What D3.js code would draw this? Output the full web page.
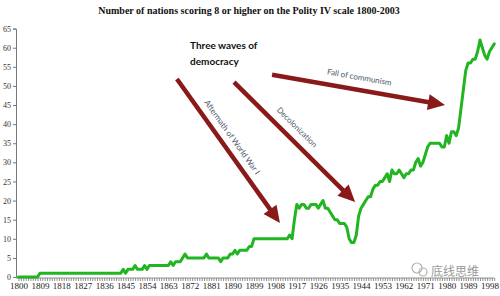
<!DOCTYPE html>
<html>
<head>
<meta charset="utf-8">
<script src="https://cdn.jsdelivr.net/npm/d3@7/dist/d3.min.js"></script>
<style>
  body { margin: 0; background: #fff; }
  svg { display: block; }
</style>
</head>
<body>
<svg id="chart" width="500" height="296"></svg>
<script>
(() => {
  const TITLE = "Number of nations scoring 8 or higher on the Polity IV scale 1800-2003";

  const START_YEAR = 1800;
  // nations scoring >= 8, one value per year from 1800
  const nations = [
    0, 0, 0, 0, 0, 0, 0, 0, 0, 1,            // 1800
    1, 1, 1, 1, 1, 1, 1, 1, 1, 1,            // 1810
    1, 1, 1, 1, 1, 1, 1, 1, 1, 1,            // 1820
    1, 1, 1, 1, 1, 1, 1, 1, 1, 1,            // 1830
    1, 1, 1, 1, 2, 1, 2, 2, 2, 3,            // 1840
    2, 2, 2, 3, 2, 3, 3, 3, 3, 3,            // 1850
    3, 3, 3, 3, 4, 3, 4, 4, 4, 5,            // 1860
    6, 5, 5, 5, 5, 5, 5, 5, 5, 6,            // 1870
    5, 5, 5, 5, 5, 4, 5, 5, 5, 6,            // 1880
    6, 7, 6, 7, 7, 7, 7, 8, 8, 10,           // 1890
    10, 10, 10, 10, 10, 10, 10, 10, 10, 10,  // 1900
    10, 10, 10, 10, 11, 10, 15, 19, 18, 19,  // 1910
    19, 18, 18, 19, 19, 19, 18, 19, 20, 18,  // 1920
    18, 17, 16, 15, 15, 14, 14, 14, 13, 10,  // 1930
    9, 9, 11, 16, 18, 19, 20, 21, 21, 23,    // 1940
    24, 24, 25, 25, 26, 27, 25, 28, 27, 27,  // 1950
    28, 27, 26, 27, 27, 28, 28, 30, 31, 29,  // 1960
    30, 32, 34, 35, 35, 35, 35, 35, 34, 34,  // 1970
    37, 35, 38, 38, 37, 39, 44, 49, 54, 56,  // 1980
    56, 57, 57, 59, 62, 60, 58, 57, 59, 60,  // 1990
    61                                       // 2000
  ];

  const yTicks = [0, 5, 10, 15, 20, 25, 30, 35, 40, 45, 50, 55, 60, 65];
  const xLabelYears = [1800, 1809, 1818, 1827, 1836, 1845, 1854, 1863, 1872, 1881,
                       1890, 1899, 1908, 1917, 1926, 1935, 1944, 1953, 1962, 1971,
                       1980, 1989, 1998];

  const headline = ["Three waves of", "democracy"];
  // arrows in data space: [yearFrom, valueFrom, yearTo, valueTo, label]
  const waves = [
    { from: [1866.6, 51.8], to: [1909.9, 14.1], label: "Aftermath of World War I", at: [1889.8, 36.6], side: 1 },
    { from: [1890.6, 51.0], to: [1941.5, 19.6], label: "Decolonization", at: [1917.1, 39.2], side: 1 },
    { from: [1906.6, 52.9], to: [1979.3, 45.0], label: "Fall of communism", at: [1943.3, 52.3], side: -1 }
  ];

  const data = nations.map((v, i) => ({ year: START_YEAR + i, value: v }));

  const svg = d3.select("#chart");

  const x = d3.scaleLinear().domain([1800, 1998]).range([18.5, 489.5]);
  const y = d3.scaleLinear().domain([0, 65]).range([277, 28.6]);

  /* ---------- TITLE ---------- */
  svg.append("text")
    .attr("x", 249)
    .attr("y", 13.5)
    .attr("text-anchor", "middle")
    .style("font-family", "'Liberation Serif', 'Times New Roman', serif")
    .style("font-weight", "bold")
    .style("font-size", "10px")
    .attr("fill", "#111")
    .text(TITLE);

  /* ---------- AXES ---------- */
  const axisX = 16;
  svg.append("g")
    .attr("transform", `translate(${axisX},0)`)
    .call(d3.axisLeft(y).tickValues(yTicks).tickSize(3).tickPadding(2))
    .call(g => g.selectAll("line, path").attr("stroke", "#777"))
    .call(g => g.selectAll("text")
      .style("font-family", "'Liberation Serif', 'Times New Roman', serif")
      .style("font-size", "8px")
      .attr("fill", "#333"));

  const allYears = data.map(d => d.year).filter(yr => yr <= 2000);
  svg.append("g")
    .attr("transform", `translate(0,${y(0) + 1})`)
    .call(d3.axisBottom(x)
      .tickValues(allYears)
      .tickSize(3)
      .tickPadding(2)
      .tickFormat(d => xLabelYears.includes(d) ? d : ""))
    .call(g => g.select(".domain").attr("d", `M${axisX},0H${x(2000)}`))
    .call(g => g.selectAll("line, path").attr("stroke", "#777").attr("stroke-width", 0.8))
    .call(g => g.selectAll("text")
      .style("font-family", "'Liberation Serif', 'Times New Roman', serif")
      .style("font-size", "9px")
      .attr("fill", "#222"));

  /* ---------- LINE ---------- */
  const line = d3.line()
    .x(d => x(d.year))
    .y(d => y(d.value));

  svg.append("path")
    .datum(data)
    .attr("d", line)
    .attr("fill", "none")
    .attr("stroke", "#22b522")
    .attr("stroke-width", 3)
    .attr("stroke-linejoin", "round")
    .attr("stroke-linecap", "round");

  /* ---------- ANNOTATIONS ---------- */
  svg.append("text")
    .attr("x", x(1872.1))
    .attr("y", y(59.6))
    .style("font-family", "Lato, 'DejaVu Sans', sans-serif")
    .style("font-weight", "bold")
    .style("font-size", "10px")
    .attr("fill", "#111")
    .selectAll("tspan")
    .data(headline)
    .join("tspan")
    .attr("x", x(1872.1))
    .attr("dy", (d, i) => i ? 16 : 0)
    .text(d => d);

  const arrowColor = "#8a1a1a";
  waves.forEach(w => {
    const x0 = x(w.from[0]), y0 = y(w.from[1]);
    const x1 = x(w.to[0]), y1 = y(w.to[1]);
    const ang = Math.atan2(y1 - y0, x1 - x0);
    const headLen = 17, headW = 8;
    const bx = x1 - headLen * Math.cos(ang), by = y1 - headLen * Math.sin(ang);
    const px = -Math.sin(ang), py = Math.cos(ang);

    svg.append("line")
      .attr("x1", x0).attr("y1", y0)
      .attr("x2", bx + 2 * Math.cos(ang)).attr("y2", by + 2 * Math.sin(ang))
      .attr("stroke", arrowColor)
      .attr("stroke-width", 4.5);

    svg.append("path")
      .attr("d", `M${x1},${y1}L${bx + px * headW},${by + py * headW}L${bx - px * headW},${by - py * headW}Z`)
      .attr("fill", arrowColor);

    const deg = ang * 180 / Math.PI;
    svg.append("text")
      .attr("transform", `translate(${x(w.at[0])},${y(w.at[1])}) rotate(${deg})`)
      .attr("text-anchor", "middle")
      .attr("dy", "0.35em")
      .style("font-family", "Lato, 'DejaVu Sans', sans-serif")
      .style("font-size", "8px")
      .attr("fill", "#4d5a6b")
      .text(w.label);
  });

  /* ---------- WATERMARK ---------- */
  const wm = svg.append("g").attr("opacity", 0.75);
  wm.append("circle").attr("cx", 417).attr("cy", 268).attr("r", 5)
    .attr("fill", "none").attr("stroke", "#999").attr("stroke-width", 1.2);
  wm.append("circle").attr("cx", 423).attr("cy", 272).attr("r", 4)
    .attr("fill", "none").attr("stroke", "#999").attr("stroke-width", 1.2);
  wm.append("text")
    .attr("x", 431)
    .attr("y", 276)
    .style("font-family", "'Noto Sans CJK SC', sans-serif")
    .style("font-size", "12px")
    .attr("fill", "#777")
    .text("底线思维");
})();
</script>
</body>
</html>
